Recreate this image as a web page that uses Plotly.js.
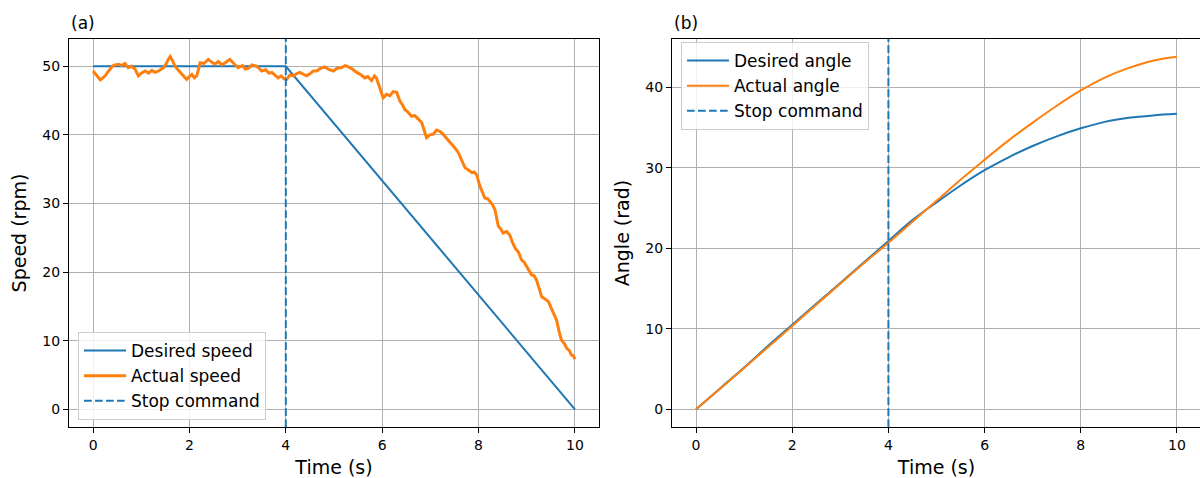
<!DOCTYPE html>
<html>
<head>
<meta charset="utf-8">
<script src="https://cdn.plot.ly/plotly-3.0.1.min.js"></script>
<style>
html,body{margin:0;padding:0;overflow:hidden;background:#fff;}
#chart{width:1202px;height:478px;}
</style>
</head>
<body>
<div id="chart"></div>
<script>
// ---- data ----
const stopTime = 4;

const desiredSpeedT = [0, 4, 10];
const desiredSpeed = [50, 50, 0];

const actualSpeedT = [
0.00,0.05,0.10,0.15,0.20,0.25,0.30,0.35,0.40,0.45,0.53,0.60,0.66,0.73,0.80,0.87,0.94,1.00,1.08,1.15,
1.22,1.29,1.36,1.46,1.52,1.56,1.60,1.65,1.70,1.77,1.84,1.90,1.94,2.00,2.05,2.10,2.15,2.19,2.22,2.30,
2.39,2.46,2.53,2.60,2.67,2.74,2.80,2.84,2.92,3.01,3.10,3.16,3.22,3.30,3.40,3.45,3.50,3.58,3.65,3.71,
3.78,3.84,3.90,3.96,4.02,4.08,4.16,4.22,4.29,4.36,4.43,4.50,4.57,4.64,4.72,4.81,4.90,4.99,5.06,5.16,
5.23,5.30,5.38,5.47,5.55,5.64,5.70,5.78,5.84,5.88,5.92,5.95,6.00,6.02,6.09,6.16,6.23,6.30,6.37,6.42,
6.47,6.54,6.61,6.68,6.75,6.82,6.87,6.92,6.99,7.06,7.13,7.20,7.25,7.30,7.37,7.44,7.51,7.58,7.65,7.72,
7.79,7.86,7.91,7.96,8.03,8.08,8.13,8.19,8.24,8.29,8.34,8.38,8.41,8.46,8.51,8.58,8.65,8.70,8.76,8.83,
8.89,8.95,9.00,9.05,9.10,9.15,9.20,9.26,9.31,9.38,9.45,9.50,9.55,9.62,9.67,9.72,9.78,9.83,9.88,9.93,
9.97,10.00];
const actualSpeed = [
49.3,48.9,48.4,48.0,48.3,48.6,49.1,49.6,50.0,50.2,50.3,50.1,50.4,49.8,50.0,49.6,48.6,49.0,49.3,49.0,
49.4,49.1,49.3,49.8,50.4,51.0,51.4,50.8,50.0,49.4,48.8,48.4,48.1,48.5,48.8,48.3,48.6,49.6,50.5,50.4,
51.0,50.6,50.3,50.7,50.2,50.5,50.8,51.0,50.4,49.8,50.1,49.6,49.7,50.2,50.0,49.6,49.3,49.5,49.0,49.1,
48.7,48.3,48.6,48.2,48.1,48.7,48.6,48.9,49.1,48.8,48.6,48.9,49.3,49.3,49.7,49.9,49.5,49.3,49.7,49.8,
50.1,49.9,49.6,49.1,48.8,48.3,48.5,47.9,48.6,48.3,47.5,46.9,45.9,45.4,45.9,45.7,46.3,46.2,44.9,44.4,
43.7,43.3,42.7,42.8,42.3,41.8,40.7,39.6,40.0,40.1,40.7,40.5,40.2,39.8,39.3,38.6,38.1,37.4,36.3,35.2,
34.9,34.5,34.6,34.2,32.5,31.6,30.8,30.7,30.3,29.8,29.1,27.8,26.7,26.3,25.7,25.9,25.4,24.4,23.5,22.9,
21.8,21.4,20.8,20.3,19.6,19.5,18.9,17.6,16.4,16.1,15.7,14.9,14.2,13.0,11.4,10.1,9.6,8.9,8.6,7.9,
7.8,7.3];

const angleT = [0,0.5,1,1.5,2,2.5,3,3.5,4,4.5,5,5.5,6,6.5,7,7.5,8,8.5,9,9.5,10];
const desiredAngle = [0,2.6,5.2,7.9,10.5,13.1,15.7,18.3,20.9,23.5,25.7,27.8,29.7,31.3,32.7,33.9,34.9,35.7,36.2,36.5,36.7];
const actualAngle  = [0,2.55,5.15,7.75,10.35,13.0,15.6,18.2,20.7,23.3,25.9,28.5,31.0,33.4,35.6,37.7,39.6,41.2,42.4,43.3,43.8];

const xTicks = [0,2,4,6,8,10];
const speedTicks = [0,10,20,30,40,50];
const angleTicks = [0,10,20,30,40];

const xRange = [-0.5, 10.5];
const speedRange = [-2.57, 53.97];
const angleRange = [-2.19, 45.99];

// ---- styling ----
const BLUE = '#1f77b4', ORANGE = '#ff7f0e';
const FONT = 'DejaVu Sans, sans-serif';
const W = 1202, H = 478, MT = 39, MB = 51;
const PH = H - MT - MB;
const DASH = '7.7px,3.3px';

const traces = [
  {x: desiredSpeedT, y: desiredSpeed, xaxis:'x', yaxis:'y', mode:'lines', name:'Desired speed',
   line:{color:BLUE, width:2}, legend:'legend'},
  {x: actualSpeedT, y: actualSpeed, xaxis:'x', yaxis:'y', mode:'lines', name:'Actual speed',
   line:{color:ORANGE, width:3}, legend:'legend'},
  {x: [stopTime, stopTime], y: speedRange, xaxis:'x', yaxis:'y', mode:'lines', name:'Stop command',
   line:{color:BLUE, width:2, dash:DASH}, legend:'legend'},
  {x: angleT, y: desiredAngle, xaxis:'x2', yaxis:'y2', mode:'lines', name:'Desired angle',
   line:{color:BLUE, width:2, shape:'spline'}, legend:'legend2'},
  {x: angleT, y: actualAngle, xaxis:'x2', yaxis:'y2', mode:'lines', name:'Actual angle',
   line:{color:ORANGE, width:2, shape:'spline'}, legend:'legend2'},
  {x: [stopTime, stopTime], y: angleRange, xaxis:'x2', yaxis:'y2', mode:'lines', name:'Stop command',
   line:{color:BLUE, width:2, dash:DASH}, legend:'legend2'}
];

function xAxis(domain, anchor){
  return {domain, anchor, range:xRange, tickvals:xTicks, ticks:'outside', ticklen:5, tickwidth:1,
    tickcolor:'#000', showline:true, linecolor:'#000', linewidth:1, mirror:true,
    showgrid:true, gridcolor:'#b0b0b0', gridwidth:0.8, zeroline:false, automargin:false,
    tickfont:{family:FONT, size:14, color:'#000'},
    title:{text:'Time (s)', font:{family:FONT, size:19, color:'#000'}, standoff:8}};
}
function yAxis(domain, anchor, range, ticks, title){
  return {domain, anchor, range, tickvals:ticks, ticks:'outside', ticklen:5, tickwidth:1,
    tickcolor:'#000', showline:true, linecolor:'#000', linewidth:1, mirror:true,
    showgrid:true, gridcolor:'#b0b0b0', gridwidth:0.8, zeroline:false, automargin:false,
    tickfont:{family:FONT, size:14, color:'#000'},
    title:{text:title, font:{family:FONT, size:19, color:'#000'}, standoff:10}};
}

const legendStyle = {bgcolor:'rgba(255,255,255,0.8)', bordercolor:'#cccccc', borderwidth:1,
  font:{family:FONT, size:17, color:'#000'}, tracegroupgap:0, itemwidth:42,
  xref:'paper', yref:'paper'};

const layout = {
  width: W, height: H,
  margin:{l:0, r:0, t:MT, b:MB, autoexpand:false},
  paper_bgcolor:'#fff', plot_bgcolor:'#fff',
  font:{family:FONT, color:'#000'},
  showlegend:true,
  xaxis: xAxis([69/W, 599/W], 'y'),
  yaxis: yAxis([0,1], 'x', speedRange, speedTicks, 'Speed (rpm)'),
  xaxis2: xAxis([672/W, 1201/W], 'y2'),
  yaxis2: yAxis([0,1], 'x2', angleRange, angleTicks, 'Angle (rad)'),
  legend: Object.assign({}, legendStyle, {x:78/W, y:(H-MB-420)/PH, xanchor:'left', yanchor:'bottom'}),
  legend2: Object.assign({}, legendStyle, {x:681/W, y:(H-MB-42)/PH, xanchor:'left', yanchor:'top'}),
  annotations:[
    {text:'(a)', xref:'x domain', yref:'y domain', x:0, y:1, xanchor:'left', yanchor:'bottom',
     yshift:4, showarrow:false, font:{family:FONT, size:17, color:'#000'}},
    {text:'(b)', xref:'x2 domain', yref:'y2 domain', x:0, y:1, xanchor:'left', yanchor:'bottom',
     yshift:4, showarrow:false, font:{family:FONT, size:17, color:'#000'}}
  ]
};

Plotly.newPlot('chart', traces, layout, {displayModeBar:false, responsive:false});
</script>
</body>
</html>
